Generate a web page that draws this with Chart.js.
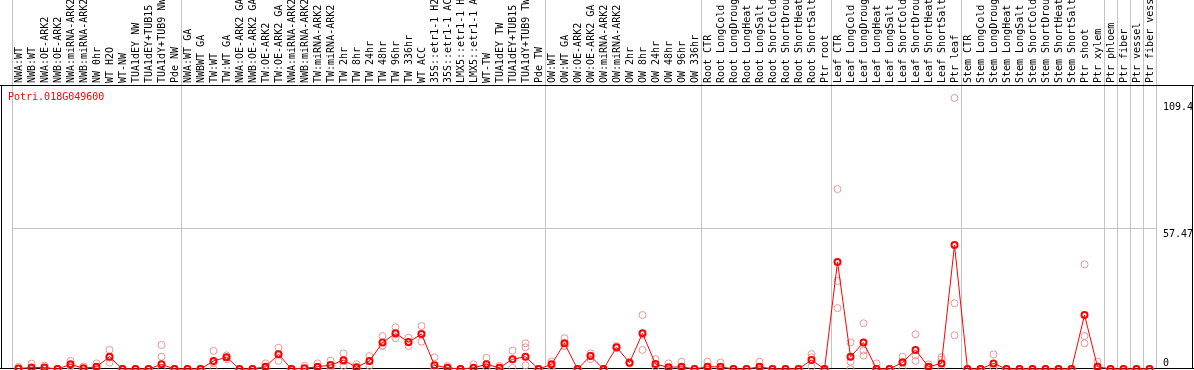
<!DOCTYPE html>
<html>
<head>
<meta charset="utf-8">
<script src="https://cdn.jsdelivr.net/npm/chart.js@4.4.1/dist/chart.umd.min.js"></script>
<style>
html, body { margin: 0; padding: 0; background: #fff; }
#wrap { position: relative; width: 1194px; height: 370px; overflow: hidden; }
#gene { position: absolute; left: 8px; top: 91px; font: 10px "DejaVu Sans Mono", monospace; color: #ff0000; }
</style>
</head>
<body>
<div id="wrap">
  <canvas id="exprChart" width="1194" height="370"></canvas>
  <div id="gene">Potri.018G049600</div>
</div>
<script>
// sample names along the top (x-axis)
var samples = [
  "NWA:WT", "NWB:WT", "NWA:OE-ARK2", "NWB:OE-ARK2", "NWA:miRNA-ARK2", "NWB:miRNA-ARK2",
  "NW 0hr", "WT H2O", "WT-NW", "TUA1dEY NW", "TUA1dEY+TUB15 NW", "TUA1dY+TUB9 NW", "Pde NW",
  "NWA:WT GA", "NWBWT GA", "TW:WT", "TW:WT GA", "NWA:OE-ARK2 GA", "NWB:OE-ARK2 GA",
  "TW:OE-ARK2", "TW:OE-ARK2 GA", "NWA:miRNA-ARK2 GA", "NWB:miRNA-ARK2 GA", "TW:miRNA-ARK2",
  "TW:miRNA-ARK2 GA", "TW 2hr", "TW 8hr", "TW 24hr", "TW 48hr", "TW 96hr", "TW 336hr",
  "WT ACC", "35S::etr1-1 H2O", "35S::etr1-1 ACC", "LMX5::etr1-1 H2O", "LMX5::etr1-1 ACC",
  "WT-TW", "TUA1dEY TW", "TUA1dEY+TUB15 TW", "TUA1dY+TUB9 TW", "Pde TW",
  "OW:WT", "OW:WT GA", "OW:OE-ARK2", "OW:OE-ARK2 GA", "OW:miRNA-ARK2", "OW:miRNA-ARK2 GA",
  "OW 2hr", "OW 8hr", "OW 24hr", "OW 48hr", "OW 96hr", "OW 336hr",
  "Root CTR", "Root LongCold", "Root LongDrought", "Root LongHeat", "Root LongSalt",
  "Root ShortCold", "Root ShortDrought", "Root ShortHeat", "Root ShortSalt", "Ptr root",
  "Leaf CTR", "Leaf LongCold", "Leaf LongDrought", "Leaf LongHeat", "Leaf LongSalt",
  "Leaf ShortCold", "Leaf ShortDrought", "Leaf ShortHeat", "Leaf ShortSalt", "Ptr leaf",
  "Stem CTR", "Stem LongCold", "Stem LongDrought", "Stem LongHeat", "Stem LongSalt",
  "Stem ShortCold", "Stem ShortDrought", "Stem ShortHeat", "Stem ShortSalt", "Ptr shoot",
  "Ptr xylem", "Ptr phloem", "Ptr fiber", "Ptr vessel", "Ptr fiber vessel"
];
// first sample index of each experiment group (last = end)
var groupStarts = [0, 13, 41, 53, 63, 73, 84, 85, 86, 87, 88];

// mean expression per sample
var meanValues = [
  0.2, 0.6, 0.6, 0, 1.9, 0.3, 0.9, 5.0, 0, 0, 0, 1.9, 0,
  0, 0, 3.3, 4.8, 0, 0, 0.9, 6.0, 0, 0.3, 0.9, 1.6, 3.6, 0.7, 3.3, 10.8, 14.6, 11.0, 14.3,
  1.5, 0.5, 0, 0.5, 1.9, 0.5, 4.0, 5.0, 0,
  1.9, 10.5, 0, 5.3, 0, 8.9, 2.6, 14.6, 2.0, 0.7, 0.9, 0,
  0.9, 0.9, 0, 0, 0.9, 0, 0, 0, 3.7, 0,
  43.8, 5.0, 10.8, 0, 0, 2.7, 7.8, 0.9, 2.3, 50.7,
  0, 0, 2.3, 0, 0, 0, 0, 0, 0, 22.1, 0.9,
  0, 0, 0, 0
];
// replicate measurements
var rep1 = [
  0.9, 2.2, 1.4, 0, 3.3, 1.0, 2.3, 7.8, 0, 0, 0, 9.8, 0,
  0, 0, 7.4, 5.6, 0, 0, 2.3, 8.7, 0, 1.3, 2.3, 3.4, 6.4, 2.0, 5.3, 13.5, 17.1, 12.8, 17.6,
  4.8, 1.2, 0, 1.9, 4.6, 1.3, 7.5, 10.5, 0,
  3.0, 12.6, 0, 6.4, 0, 9.4, 2.9, 22.1, 4.0, 2.3, 3.0, 0,
  3.0, 2.6, 0, 0, 3.0, 0, 0, 0, 6.1, 0,
  73.6, 10.9, 18.7, 2.3, 0, 5.0, 14.2, 1.9, 4.8, 110.9,
  0, 0, 6.0, 0, 0, 0, 0, 0, 0, 42.8, 3.0,
  0, 0, 0, 0
];
var rep2 = [
  0, 0, 0.3, 0, 1.3, 0, 0.5, 4.6, 0, 0, 0, 5.0, 0,
  0, 0, 2.5, 4.8, 0, 0, 0.3, 6.0, 0, 0, 0.4, 1.2, 3.1, 0, 3.3, 9.6, 14.1, 10.8, 14.1,
  0, 0.3, 0, 0, 1.0, 0, 4.0, 8.9, 0,
  1.2, 9.5, 0, 5.5, 0, 8.6, 2.5, 14.0, 1.0, 0, 0, 0,
  0, 0, 0, 0, 0, 0, 0, 0, 4.8, 0,
  36.0, 3.0, 7.5, 0, 0, 3.0, 5.5, 0.5, 3.8, 26.9,
  0, 0, 0.8, 0, 0, 0, 0, 0, 0, 13.5, 0,
  0, 0, 0, 0
];
var rep3 = [
  0, 0, 0, 0, 1.0, 0, 0, 2.6, 0, 0, 0, 0, 0,
  0, 0, 0, 4.0, 0, 0, 0, 3.3, 0, 0, 0, 0.3, 1.3, 0, 1.3, 9.4, 12.6, 9.4, 11.2,
  0, 0, 0, 0, 0, 0, 0.5, 1.5, 0,
  0, 9.4, 0, 4.0, 0, 8.6, 2.3, 7.8, 1.0, 0, 0, 0,
  0, 0, 0, 0, 0, 0, 0, 0, 1.0, 0,
  24.9, 0, 5.5, 0, 0, 0, 3.3, 0, 0, 13.8,
  0, 0, 0, 0, 0, 0, 0, 0, 0, 10.5, 0,
  0, 0, 0, 0
];
var yTicks = [0, 57.47, 109.4];
var yMax = 116.2;

var gridGray = '#c4c4c4';
var repColor = 'rgb(236,150,150)';
var monoFont = { family: "'DejaVu Sans Mono', monospace", size: 10 };

// black frame round the plot and label strip
var framePlugin = {
  id: 'frame',
  beforeDatasetsDraw: function (chart) {
    var c = chart.ctx, a = chart.chartArea, w = chart.width;
    c.save();
    c.strokeStyle = '#000';
    c.lineWidth = 1;
    c.beginPath();
    c.moveTo(0, a.top + 0.5); c.lineTo(w, a.top + 0.5);
    c.moveTo(0, a.bottom - 0.5); c.lineTo(w, a.bottom - 0.5);
    c.moveTo(1.5, a.top); c.lineTo(1.5, a.bottom);
    c.moveTo(w - 1.5, a.top); c.lineTo(w - 1.5, a.bottom);
    c.stroke();
    c.restore();
  }
};

function repSet(arr) {
  return {
    data: arr,
    showLine: false,
    pointRadius: 3.5,
    pointBorderWidth: 1,
    pointBorderColor: repColor,
    pointBackgroundColor: 'rgba(0,0,0,0)',
    borderColor: repColor,
    clip: false
  };
}

function noPadding(s) {
  s.paddingTop = 0; s.paddingBottom = 0; s.paddingLeft = 0; s.paddingRight = 0;
}

new Chart(document.getElementById('exprChart'), {
  type: 'line',
  data: {
    labels: samples,
    datasets: [
      {
        data: meanValues,
        borderColor: '#ff0000',
        borderWidth: 1,
        tension: 0,
        pointRadius: 3,
        pointBorderWidth: 2,
        pointBorderColor: '#ff0000',
        pointBackgroundColor: 'rgba(0,0,0,0)',
        clip: false
      },
      repSet(rep1),
      repSet(rep2),
      repSet(rep3)
    ]
  },
  options: {
    responsive: false,
    devicePixelRatio: 1,
    animation: false,
    layout: { autoPadding: false, padding: { left: 12, right: 1, top: 0, bottom: 1 } },
    plugins: { legend: { display: false }, tooltip: { enabled: false } },
    scales: {
      x: {
        type: 'category',
        position: 'top',
        offset: true,
        border: { display: false },
        grid: {
          offset: true,
          tickLength: 85,
          color: function (ctx) {
            if (ctx.index === undefined) return gridGray;
            return groupStarts.indexOf(ctx.index) >= 0 ? gridGray : 'rgba(0,0,0,0)';
          }
        },
        ticks: {
          autoSkip: false,
          minRotation: 90,
          maxRotation: 90,
          padding: -83,
          labelOffset: 13,
          color: '#000',
          font: monoFont
        },
        afterFit: function (s) { s.height = 85; noPadding(s); }
      },
      y: {
        type: 'linear',
        position: 'right',
        min: 0,
        max: yMax,
        border: { display: false },
        afterBuildTicks: function (s) {
          s.ticks = yTicks.map(function (v) { return { value: v }; });
        },
        grid: {
          drawTicks: false,
          color: function (ctx) {
            return (ctx.tick && ctx.tick.value === 57.47) ? gridGray : 'rgba(0,0,0,0)';
          }
        },
        ticks: {
          padding: 7,
          color: '#000',
          font: monoFont,
          callback: function (v) {
            return v === 0 ? ['0', ''] : ['', String(v)];
          }
        },
        afterFit: function (s) { s.width = 37; noPadding(s); }
      }
    }
  },
  plugins: [framePlugin]
});
</script>
</body>
</html>
